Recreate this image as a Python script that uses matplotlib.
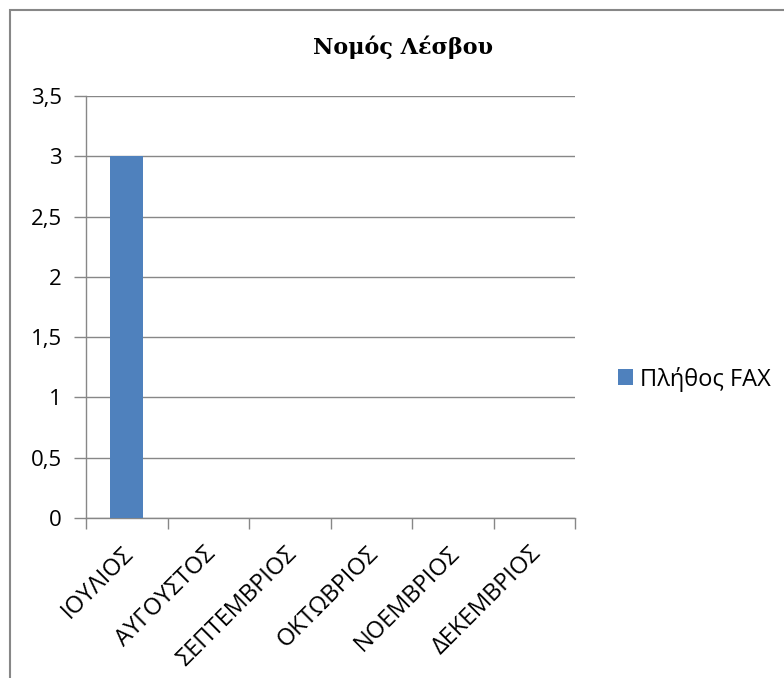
import matplotlib
matplotlib.use("Agg")
from matplotlib import pyplot as plt
from matplotlib.patches import Rectangle
from matplotlib.ticker import FuncFormatter
from matplotlib.transforms import ScaledTranslation

# Δεδομένα
months = ["ΙΟΥΛΙΟΣ", "ΑΥΓΟΥΣΤΟΣ", "ΣΕΠΤΕΜΒΡΙΟΣ", "ΟΚΤΩΒΡΙΟΣ", "ΝΟΕΜΒΡΙΟΣ", "ΔΕΚΕΜΒΡΙΟΣ"]
fax_counts = [3, 0, 0, 0, 0, 0]
y_ticks = [0, 0.5, 1, 1.5, 2, 2.5, 3, 3.5]

W, H = 784, 678
fig = plt.figure(figsize=(W / 100, H / 100), dpi=100)
plt.rcParams["font.family"] = ["Open Sans", "DejaVu Sans"]

# Πλαίσιο γραφήματος
fig.patches.append(Rectangle((10 / W, -0.1), 1.2, 1 - 10 / H + 0.1, transform=fig.transFigure,
                             fill=False, edgecolor="#878787", linewidth=1.5))

ax = fig.add_axes([86 / W, 1 - 518 / H, (575 - 86) / W, (518 - 96) / H])
x = list(range(len(months)))
ax.bar(x, fax_counts, width=0.41, color="#4F81BD", label="Πλήθος FAX", zorder=3)

ax.set_xlim(-0.5, len(months) - 0.5)
ax.set_ylim(0, 3.5)
ax.set_yticks(y_ticks)
ax.yaxis.set_major_formatter(FuncFormatter(lambda v, p: f"{v:g}".replace(".", ",")))
ax.grid(axis="y", color="#878787", linewidth=1, zorder=0)

ax.set_xticks([i - 0.5 for i in range(len(months) + 1)], minor=False)
ax.set_xticklabels([])
ax.set_xticks(x, minor=True)
ax.set_xticklabels(months, minor=True, rotation=45, ha="right", va="top",
                   rotation_mode="anchor", fontsize=17)
ax.tick_params(axis="x", which="minor", length=0, pad=17)
ax.tick_params(axis="x", which="major", length=8, color="#878787", width=1)
ax.tick_params(axis="y", length=9, color="#878787", width=1, labelsize=16, pad=8.5)

# μικρή μετατόπιση των ετικετών μηνών προς τα αριστερά
shift = ScaledTranslation(-5 / 100, 0, fig.dpi_scale_trans)
for t in ax.get_xticklabels(minor=True):
    t.set_transform(t.get_transform() + shift)

for s in ["top", "right"]:
    ax.spines[s].set_visible(False)
for s in ["left", "bottom"]:
    ax.spines[s].set_color("#878787")
    ax.spines[s].set_linewidth(1)

fig.text(403 / W, 1 - 54 / H, "Νομός Λέσβου", ha="center", va="baseline",
         fontsize=16, fontweight="bold", family=["DejaVu Serif"])

ax.legend(loc="center left", bbox_to_anchor=(618 / W, 1 - 379 / H), bbox_transform=fig.transFigure,
          frameon=False, fontsize=17, borderaxespad=0, borderpad=0,
          handlelength=0.64, handleheight=0.64, handletextpad=0.3)

fig.savefig("out.png", dpi=100)
